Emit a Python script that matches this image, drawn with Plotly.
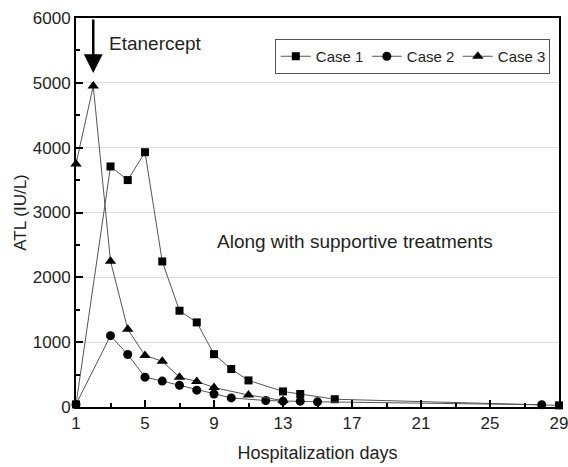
import plotly.graph_objects as go

case1_days = [1, 3, 4, 5, 6, 7, 8, 9, 10, 11, 13, 14, 16, 29]
case1_alt = [40, 3710, 3500, 3930, 2245, 1485, 1305, 815, 585, 410, 240, 200, 120, 25]

case2_days = [1, 3, 4, 5, 6, 7, 8, 9, 10, 12, 13, 14, 15, 28]
case2_alt = [40, 1100, 810, 460, 400, 335, 260, 200, 140, 100, 90, 90, 80, 35]

case3_days = [1, 2, 3, 4, 5, 6, 7, 8, 9, 11, 13]
case3_alt = [3750, 4950, 2250, 1200, 795, 705, 460, 395, 300, 185, 100]

x_ticks = [1, 5, 9, 13, 17, 21, 25, 29]
y_ticks = [0, 1000, 2000, 3000, 4000, 5000, 6000]

TXT = "#231f20"
FONT = "Liberation Sans, Arial, Helvetica, sans-serif"

fig = go.Figure()
series = [
    ("Case 1", case1_days, case1_alt, "square", 8),
    ("Case 2", case2_days, case2_alt, "circle", 9),
    ("Case 3", case3_days, case3_alt, "triangle-up", 10),
]
for name, xs, ys, sym, sz in series:
    fig.add_trace(go.Scatter(
        x=xs, y=ys, name=name, mode="lines+markers",
        line=dict(color="#555555", width=1),
        marker=dict(symbol=sym, size=sz, color="black"),
        cliponaxis=False,
    ))

fig.add_annotation(x=2, y=5150, ax=2, ay=6000, xref="x", yref="y", axref="x", ayref="y",
                   text="", showarrow=True, arrowhead=2, arrowsize=1.5, arrowwidth=2.5,
                   arrowcolor="black")
fig.add_annotation(x=2.8, y=5600, xref="x", yref="y", text="Etanercept", showarrow=False,
                   xanchor="left", yanchor="middle", font=dict(size=19, color=TXT, family=FONT))
fig.add_annotation(x=9.06, y=2550, xref="x", yref="y", text="Along with supportive treatments",
                   showarrow=False, xanchor="left", yanchor="middle",
                   font=dict(size=19, color=TXT, family=FONT))

axis_common = dict(
    showline=True, linecolor="black", linewidth=2, mirror=True,
    ticks="inside", tickcolor="black", tickwidth=1.5, ticklen=7,
    tickfont=dict(size=17, color=TXT, family=FONT),
    zeroline=False, automargin=False, ticklabeloverflow="allow",
)

fig.update_xaxes(
    range=[1, 29], tickvals=x_ticks, showgrid=False,
    minor=dict(dtick=2, tick0=1, ticks="inside", ticklen=4, tickcolor="black", showgrid=False),
    title=dict(text="Hospitalization days", font=dict(size=18, color=TXT, family=FONT), standoff=14),
    **axis_common,
)
fig.update_yaxes(
    range=[0, 6000], tickvals=y_ticks, showgrid=True, gridcolor="#dddddd", gridwidth=1,
    minor=dict(dtick=500, tick0=0, ticks="inside", ticklen=4, tickcolor="black", showgrid=False),
    title=dict(text="ATL (IU/L)", font=dict(size=17, color=TXT, family=FONT), standoff=2),
    **axis_common,
)

fig.update_layout(
    width=568, height=467,
    margin=dict(l=76, r=9, t=18, b=60, autoexpand=False),
    paper_bgcolor="white", plot_bgcolor="white",
    font=dict(family=FONT, color=TXT),
    showlegend=True,
    legend=dict(
        orientation="h", x=0.981, y=0.946, xanchor="right", yanchor="top",
        bordercolor="#555555", borderwidth=1, bgcolor="white",
        font=dict(size=15, color=TXT, family=FONT),
        itemwidth=30, tracegroupgap=0, entrywidth=46, entrywidthmode="pixels",
    ),
)

fig.write_html(
    "out.html",
    config={"displayModeBar": False},
    post_script="document.body.style.margin='0';document.body.style.overflow='hidden';",
)
